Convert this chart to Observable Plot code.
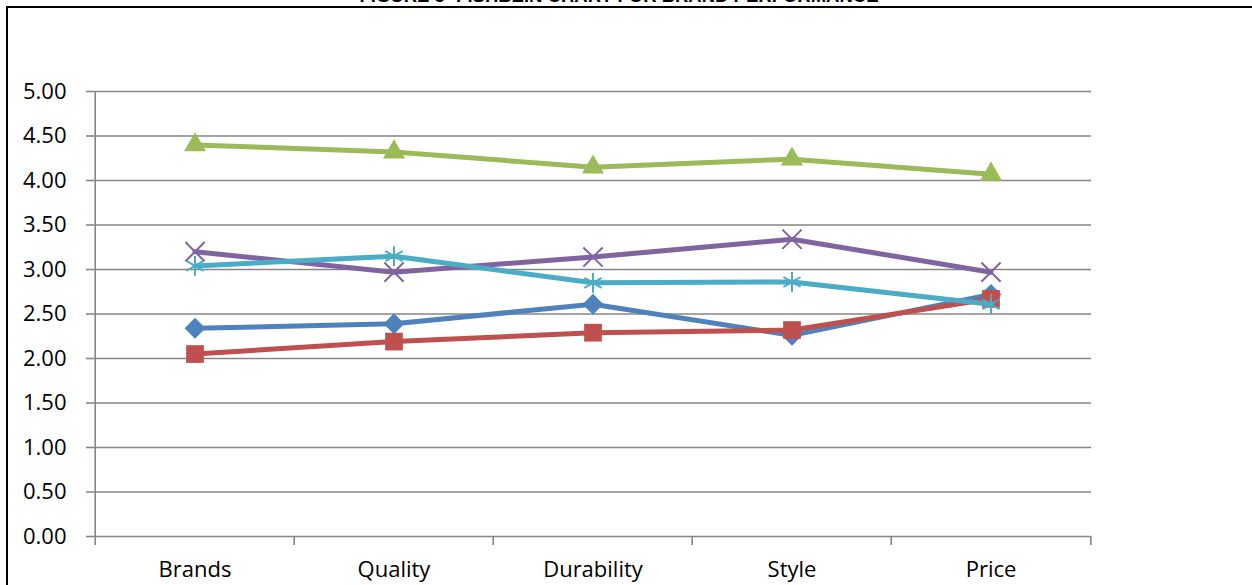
<!DOCTYPE html>
<html>
<head>
<meta charset="utf-8">
<script src="https://cdn.jsdelivr.net/npm/d3@7"></script>
<script src="https://cdn.jsdelivr.net/npm/@observablehq/plot@0.6"></script>
<style>
  body { margin: 0; background: #fff; }
  #title { position: relative; width: 1252px; height: 6px; overflow: hidden; }
  #title span {
    position: absolute; left: 0; width: 1238px; top: -13px;
    text-align: center; white-space: nowrap;
    font: bold 18.5px/18.5px "Liberation Sans", Arial, sans-serif; color: #000;
  }
  #frame {
    margin-left: 6px; width: 1244px; height: 577px;
    border-top: 2px solid #000; border-left: 2px solid #000;
  }
  #frame svg { display: block; }
</style>
</head>
<body>
<div id="title"><span>FIGURE 5- FISHBEIN CHART FOR BRAND PERFORMANCE</span></div>
<div id="frame"></div>
<script>
// Attributes rated for each brand
const categories = ["Brands", "Quality", "Durability", "Style", "Price"];

// Mean scores per series
const series1 = [2.34, 2.39, 2.61, 2.26, 2.72];
const series2 = [2.05, 2.19, 2.29, 2.32, 2.67];
const series3 = [4.40, 4.32, 4.15, 4.24, 4.07];
const series4 = [3.20, 2.97, 3.14, 3.34, 2.97];
const series5 = [3.04, 3.15, 2.85, 2.86, 2.61];

// Y axis tick values
const yTicks = [0, 0.5, 1, 1.5, 2, 2.5, 3, 3.5, 4, 4.5, 5];

// Series styling: colour and marker
const seriesList = [
  {name: "Series 1", values: series1, color: "#4F81BD", symbol: "diamond2", r: 9.4, filled: true},
  {name: "Series 2", values: series2, color: "#C0504D", symbol: "square", r: 10, filled: true},
  {name: "Series 3", values: series3, color: "#9BBB59", symbol: "triangle", r: 8.2, filled: true},
  {name: "Series 4", values: series4, color: "#8064A2", symbol: "times", r: 8.8, filled: false},
  {name: "Series 5", values: series5, color: "#4BACC6", symbol: "asterisk", r: 9.4, filled: false}
];

const W = 1244, H = 577;
const mL = 85, mR = 161, mT = 83, mB = 49;
const plotH = H - mT - mB;
const bw = (W - mL - mR) / categories.length;
const grid = "#868686";

const marks = [
  Plot.gridY({ticks: yTicks, stroke: grid, strokeOpacity: 1, strokeWidth: 1.6}),
  Plot.axisY({ticks: yTicks, tickFormat: d3.format(".2f"), tickSize: 7, tickPadding: 20, label: null,
              stroke: grid, strokeWidth: 1.6, strokeOpacity: 1, fill: "#000"}),
  Plot.axisX({tickSize: 0, tickPadding: 25, label: null, fill: "#000"}),
  // vertical axis line on the left edge of the first band
  Plot.ruleX([categories[0]], {x: d => d, dx: -bw / 2, insetBottom: -9, stroke: grid, strokeWidth: 1.6}),
  // category separator ticks below the axis
  Plot.ruleX(categories.slice(1), {x: d => d, dx: -bw / 2, insetTop: plotH, insetBottom: -9, stroke: grid, strokeWidth: 1.6}),
  Plot.ruleX([categories[categories.length - 1]], {x: d => d, dx: bw / 2, insetTop: plotH, insetBottom: -9, stroke: grid, strokeWidth: 1.6})
];

for (const s of seriesList) {
  const rows = categories.map((c, i) => ({category: c, value: s.values[i]}));
  marks.push(Plot.line(rows, {x: "category", y: "value", stroke: s.color, strokeWidth: 5,
                              strokeLinejoin: "round", strokeLinecap: "round"}));
  marks.push(Plot.dot(rows, s.filled
    ? {x: "category", y: "value", symbol: s.symbol, r: s.r, fill: s.color, stroke: "none"}
    : {x: "category", y: "value", symbol: s.symbol, r: s.r, fill: "none", stroke: s.color, strokeWidth: 2}));
}

const chart = Plot.plot({
  width: W,
  height: H,
  marginLeft: mL,
  marginRight: mR,
  marginTop: mT,
  marginBottom: mB,
  style: {fontFamily: "'Open Sans', sans-serif", fontSize: "22px", color: "#000", background: "#fff"},
  x: {type: "band", domain: categories, padding: 0, axis: null, label: null},
  y: {domain: [0, 5], axis: null, label: null},
  marks
});

document.getElementById("frame").appendChild(chart);
</script>
</body>
</html>
